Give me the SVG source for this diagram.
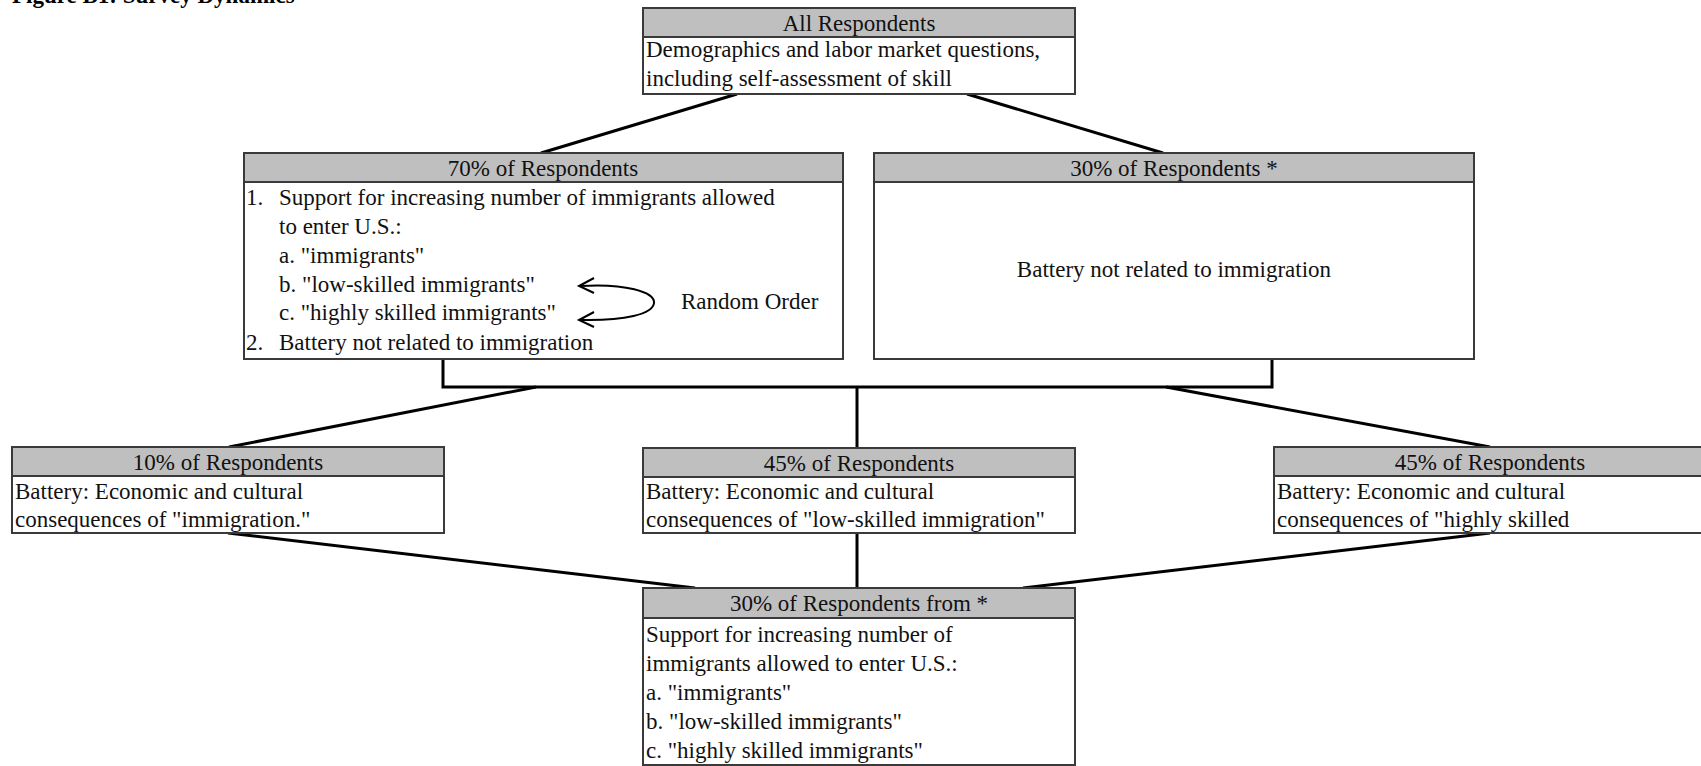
<svg xmlns="http://www.w3.org/2000/svg" width="1701" height="766" viewBox="0 0 1701 766">
<style>
.box{fill:#ffffff;stroke:#3a3a3a;stroke-width:2}
.hdr{fill:#bfbfbf;stroke:#3a3a3a;stroke-width:2}
.t{font-family:"Liberation Serif","Times New Roman",serif;font-size:23px;fill:#111}
.c{text-anchor:middle}
.ln{fill:none;stroke:#000;stroke-width:3}
.ar{fill:none;stroke:#000;stroke-width:2}
.title{font-family:"Liberation Serif","Times New Roman",serif;font-size:23px;font-weight:bold;fill:#000}
</style>
<rect width="1701" height="766" fill="#ffffff"/>
<text class="title" x="12" y="3">Figure B1: Survey Dynamics</text>

<g id="connectors">
<line class="ln" x1="737" y1="94" x2="541" y2="153"/>
<line class="ln" x1="967" y1="94" x2="1163" y2="153"/>
<polyline class="ln" points="443,359 443,387 1272,387 1272,359"/>
<line class="ln" x1="536" y1="387" x2="229" y2="447"/>
<line class="ln" x1="857" y1="387" x2="857" y2="448"/>
<line class="ln" x1="1166" y1="387" x2="1490" y2="447"/>
<line class="ln" x1="228" y1="533" x2="695" y2="588"/>
<line class="ln" x1="857" y1="533" x2="857" y2="588"/>
<line class="ln" x1="1490" y1="533" x2="1023" y2="588"/>
</g>

<g id="node-all">
<rect class="box" x="643" y="8" width="432" height="86"/>
<rect class="hdr" x="643" y="8" width="432" height="29"/>
<text class="t c" x="859" y="31">All Respondents</text>
<text class="t" x="646" y="57">Demographics and labor market questions,</text>
<text class="t" x="646" y="86">including self-assessment of skill</text>
</g>

<g id="node-70">
<rect class="box" x="244" y="153" width="599" height="206"/>
<rect class="hdr" x="244" y="153" width="599" height="29"/>
<text class="t c" x="543" y="176">70% of Respondents</text>
<text class="t" x="246" y="205">1.</text>
<text class="t" x="279" y="205">Support for increasing number of immigrants allowed</text>
<text class="t" x="279" y="234">to enter U.S.:</text>
<text class="t" x="279" y="263">a. "immigrants"</text>
<text class="t" x="279" y="292">b. "low-skilled immigrants"</text>
<text class="t" x="279" y="320">c. "highly skilled immigrants"</text>
<text class="t" x="246" y="350">2.</text>
<text class="t" x="279" y="350">Battery not related to immigration</text>
<path class="ar" d="M580 286 C625 283 655 292 654 303 C653 314 625 321 580 320"/>
<polyline class="ar" points="594,278 579,286 594,293"/>
<polyline class="ar" points="594,312 579,320 594,327"/>
<text class="t" x="681" y="309">Random Order</text>
</g>

<g id="node-30">
<rect class="box" x="874" y="153" width="600" height="206"/>
<rect class="hdr" x="874" y="153" width="600" height="29"/>
<text class="t c" x="1174" y="176">30% of Respondents *</text>
<text class="t c" x="1174" y="277">Battery not related to immigration</text>
</g>

<g id="node-10">
<rect class="box" x="12" y="447" width="432" height="86"/>
<rect class="hdr" x="12" y="447" width="432" height="29"/>
<text class="t c" x="228" y="470">10% of Respondents</text>
<text class="t" x="15" y="499">Battery: Economic and cultural</text>
<text class="t" x="15" y="527">consequences of "immigration."</text>
</g>

<g id="node-45-low">
<rect class="box" x="643" y="448" width="432" height="85"/>
<rect class="hdr" x="643" y="448" width="432" height="29"/>
<text class="t c" x="859" y="471">45% of Respondents</text>
<text class="t" x="646" y="499">Battery: Economic and cultural</text>
<text class="t" x="646" y="527">consequences of "low-skilled immigration"</text>
</g>

<g id="node-45-high">
<rect class="box" x="1274" y="447" width="434" height="86"/>
<rect class="hdr" x="1274" y="447" width="434" height="29"/>
<text class="t c" x="1490" y="470">45% of Respondents</text>
<text class="t" x="1277" y="499">Battery: Economic and cultural</text>
<text class="t" x="1277" y="527">consequences of "highly skilled</text>
</g>

<g id="node-30-from">
<rect class="box" x="643" y="588" width="432" height="177"/>
<rect class="hdr" x="643" y="588" width="432" height="30"/>
<text class="t c" x="859" y="611">30% of Respondents from *</text>
<text class="t" x="646" y="642">Support for increasing number of</text>
<text class="t" x="646" y="671">immigrants allowed to enter U.S.:</text>
<text class="t" x="646" y="700">a. "immigrants"</text>
<text class="t" x="646" y="729">b. "low-skilled immigrants"</text>
<text class="t" x="646" y="758">c. "highly skilled immigrants"</text>
</g>
</svg>
